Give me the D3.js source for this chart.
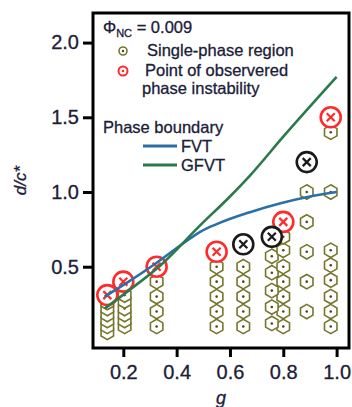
<!DOCTYPE html>
<html>
<head>
<meta charset="utf-8">
<script src="https://cdn.jsdelivr.net/npm/d3@7"></script>
<style>
  body { margin: 0; background: #fff; }
  text { font-family: "Liberation Sans", Arial, sans-serif; fill: #1b2038; stroke: #1b2038; stroke-width: 0.3; }
</style>
</head>
<body>
<svg width="352" height="407"></svg>
<script>
// single-phase points [g, d/c*]
let singlePhase = [
  [0.14,0.06],[0.14,0.10],[0.14,0.14],[0.14,0.18],[0.14,0.22],[0.14,0.26],
  [0.205,0.10],[0.205,0.14],[0.205,0.18],[0.205,0.22],[0.205,0.27],[0.205,0.31],
  [0.325,0.10],[0.325,0.20],[0.325,0.30],[0.325,0.40],
  [0.55,0.10],[0.55,0.20],[0.55,0.30],[0.55,0.40],[0.55,0.50],
  [0.65,0.10],[0.65,0.20],[0.65,0.30],[0.65,0.40],[0.65,0.50],
  [0.757,0.12],[0.757,0.23],[0.757,0.34],[0.757,0.46],[0.757,0.57],
  [0.80,0.10],[0.80,0.20],[0.80,0.30],[0.80,0.40],[0.80,0.50],[0.80,0.61],[0.80,0.70],
  [0.888,0.20],[0.888,0.40],[0.888,0.60],[0.888,0.80],[0.888,1.00],
  [0.978,0.10],[0.978,0.20],[0.978,0.30],[0.978,0.41],[0.978,0.51],[0.978,0.61],[0.978,1.00],[0.978,1.40]
];
// observed phase instability (red)
let instability = [[0.14,0.31],[0.20,0.40],[0.325,0.50],[0.55,0.60],[0.80,0.80],[0.978,1.50]];
// black markers
let blackPts = [[0.65,0.65],[0.757,0.70],[0.888,1.20]];

let fvt = [[0.13,0.30],[0.22,0.40],[0.32,0.52],[0.42,0.65],[0.49,0.735],[0.55,0.785],[0.675,0.865],[0.79,0.925],[0.9,0.97],[1.0,1.0]];
let gfvt = [[0.13,0.22],[0.22,0.34],[0.34,0.51],[0.49,0.78],[0.60,0.97],[0.675,1.11],[0.80,1.37],[1.0,1.77]];

let xTicks = [0.2,0.4,0.6,0.8,1.0];
let yTicks = [0.5,1.0,1.5,2.0];

let svg = d3.select("svg");
let L = 93, R = 349, T = 13, B = 348;

let x = d3.scaleLinear().domain([0.0863, 1.0465]).range([L, R]);
let y = d3.scaleLinear().domain([-0.044, 2.198]).range([B, T]);

let olive = "#76762c", red = "#ff2b2b", blue = "#2a6fa6", green = "#2a7a4c";

// axes
let xAxis = svg.append("g").attr("transform", "translate(0," + B + ")")
  .call(d3.axisBottom(x).tickValues(xTicks).tickFormat(d3.format(".1f")).tickSize(9).tickPadding(8).tickSizeOuter(0));
let yAxis = svg.append("g").attr("transform", "translate(" + L + ",0)")
  .call(d3.axisLeft(y).tickValues(yTicks).tickFormat(d3.format(".1f")).tickSize(10).tickPadding(4).tickSizeOuter(0));
[xAxis, yAxis].forEach(function(a){
  a.select(".domain").remove();
  a.selectAll(".tick line").attr("stroke", "#000").attr("stroke-width", 3);
  a.selectAll(".tick text").attr("font-size", 20).attr("fill", "#1b2038")
    .attr("font-family", "Liberation Sans, Arial, sans-serif");
});

// markers
let hex = function(cx, cy, r){
  let pts = d3.range(6).map(function(i){
    let a = Math.PI/3*i - Math.PI/2;
    return [cx + r*Math.cos(a), cy + r*Math.sin(a)];
  });
  return "M" + pts.join("L") + "Z";
};

let hexG = svg.append("g");
singlePhase.slice().sort(function(a,b){ return a[1]-b[1]; }).forEach(function(d){
  hexG.append("path").attr("d", hex(x(d[0]), y(d[1]), 7.2))
    .attr("fill", "#fff").attr("stroke", olive).attr("stroke-width", 1.6);
  hexG.append("circle").attr("cx", x(d[0])).attr("cy", y(d[1])).attr("r", 1.3).attr("fill", "#4a4a1a");
});

function crossMarker(g, d, col){
  let cx = x(d[0]), cy = y(d[1]), s = 4;
  g.append("circle").attr("cx", cx).attr("cy", cy).attr("r", 10)
    .attr("fill", "#fff").attr("stroke", col).attr("stroke-width", 2.6);
  g.append("path").attr("d", "M" + (cx-s) + "," + (cy-s) + "L" + (cx+s) + "," + (cy+s) + "M" + (cx-s) + "," + (cy+s) + "L" + (cx+s) + "," + (cy-s))
    .attr("stroke", col).attr("stroke-width", 2.2);
}
let cg = svg.append("g");
instability.forEach(function(d){ crossMarker(cg, d, red); });
blackPts.forEach(function(d){ crossMarker(cg, d, "#1a1a1a"); });

// boundaries
let line = d3.line().x(function(d){ return x(d[0]); }).y(function(d){ return y(d[1]); }).curve(d3.curveMonotoneX);
svg.append("path").datum(fvt).attr("d", line).attr("fill", "none").attr("stroke", blue).attr("stroke-width", 2.6);
svg.append("path").datum(gfvt).attr("d", line).attr("fill", "none").attr("stroke", green).attr("stroke-width", 2.6);

// frame
svg.append("rect").attr("x", L).attr("y", T).attr("width", R-L).attr("height", B-T)
  .attr("fill", "none").attr("stroke", "#000").attr("stroke-width", 3);

// legend
let lg = svg.append("g");
let phi = lg.append("text").attr("x", 103).attr("y", 33).attr("font-size", 16.5);
phi.append("tspan").text("\u03A6");
phi.append("tspan").attr("font-size", 11).attr("dy", 4).text("NC");
phi.append("tspan").attr("dy", -4).text(" = 0.009");

lg.append("circle").attr("cx", 123).attr("cy", 51).attr("r", 4).attr("fill", "#fff").attr("stroke", olive).attr("stroke-width", 1.6);
lg.append("circle").attr("cx", 123).attr("cy", 51).attr("r", 1.2).attr("fill", "#4a4a1a");
lg.append("text").attr("x", 147).attr("y", 56).attr("font-size", 16.5).text("Single-phase region");

lg.append("circle").attr("cx", 123).attr("cy", 71).attr("r", 4.5).attr("fill", "#fff").attr("stroke", red).attr("stroke-width", 2);
lg.append("circle").attr("cx", 123).attr("cy", 71).attr("r", 1.3).attr("fill", red);
lg.append("text").attr("x", 145).attr("y", 76).attr("font-size", 16.5).text("Point of observered");
lg.append("text").attr("x", 142).attr("y", 94).attr("font-size", 16.5).text("phase instability");

lg.append("text").attr("x", 103).attr("y", 133).attr("font-size", 16.5).text("Phase boundary");
lg.append("line").attr("x1", 143).attr("x2", 177).attr("y1", 146).attr("y2", 146).attr("stroke", blue).attr("stroke-width", 3);
lg.append("text").attr("x", 181).attr("y", 152).attr("font-size", 16.5).text("FVT");
lg.append("line").attr("x1", 143).attr("x2", 177).attr("y1", 165).attr("y2", 165).attr("stroke", green).attr("stroke-width", 3);
lg.append("text").attr("x", 181).attr("y", 171).attr("font-size", 16.5).text("GFVT");

// axis titles
svg.append("text").attr("x", (L+R)/2).attr("y", 404).attr("text-anchor", "middle")
  .attr("font-size", 18).attr("font-style", "italic").text("g");
svg.append("text").attr("transform", "translate(26," + ((T+B)/2) + ") rotate(-90)")
  .attr("text-anchor", "middle").attr("font-size", 17).attr("font-style", "italic").text("d/c*");
</script>
</body>
</html>
